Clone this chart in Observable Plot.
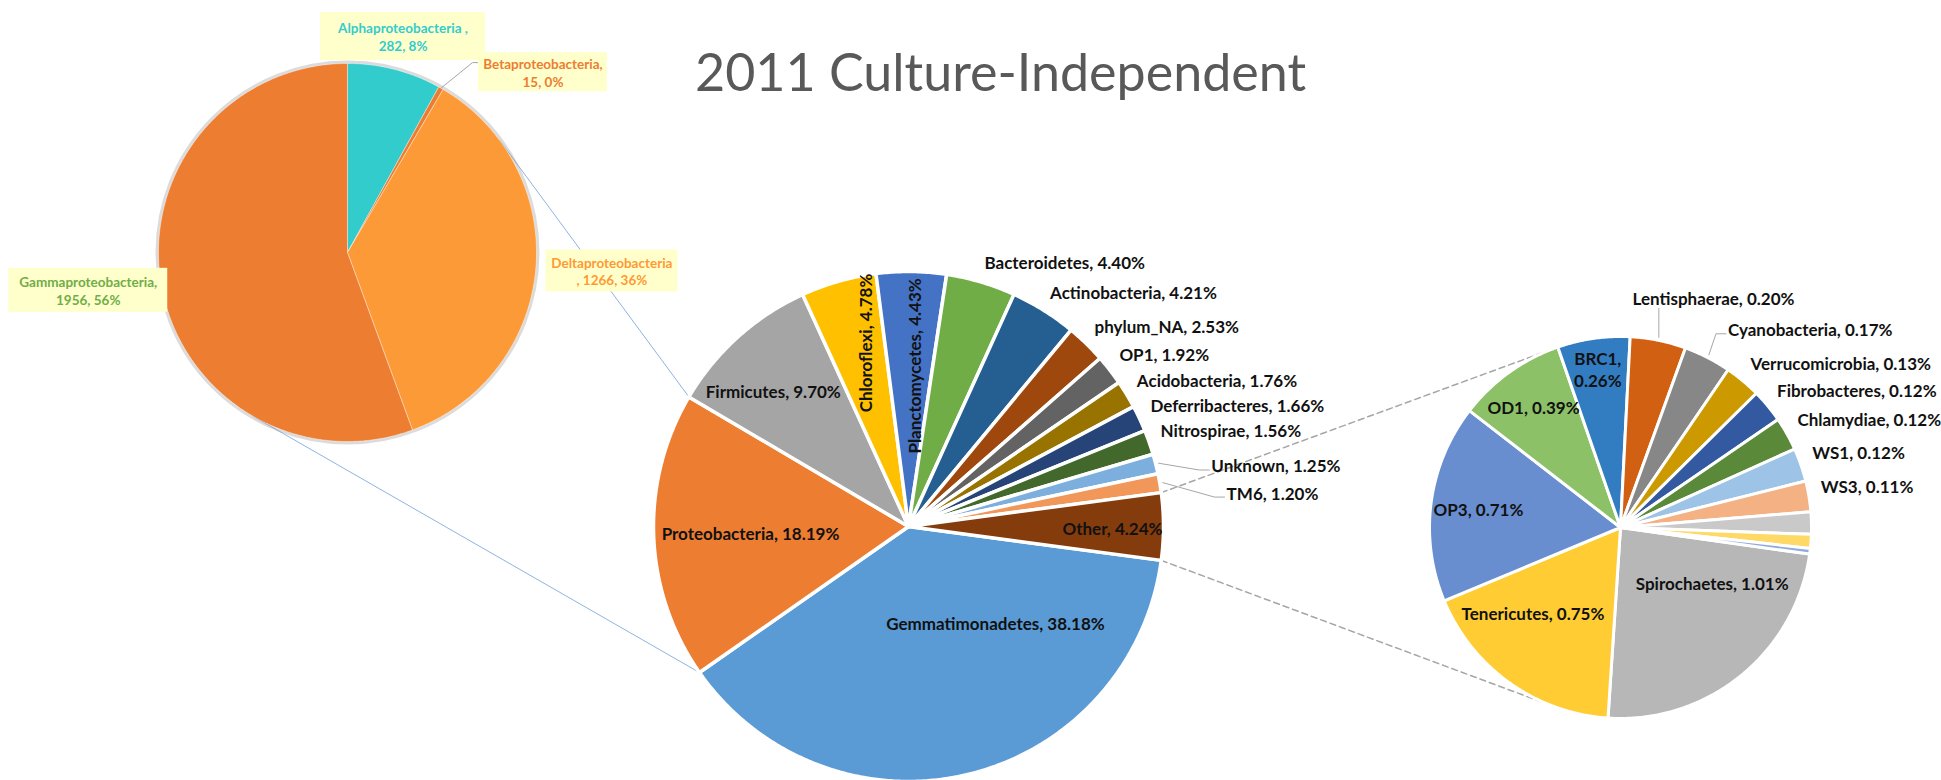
<!DOCTYPE html>
<html>
<head>
<meta charset="utf-8">
<script src="https://cdn.jsdelivr.net/npm/d3@7"></script>
<script src="https://cdn.jsdelivr.net/npm/@observablehq/plot@0.6"></script>
<style>
  html, body { margin: 0; padding: 0; background: #ffffff; }
  #chart svg { display: block; }
</style>
</head>
<body>
<div id="chart"></div>
<script>
// ---------------- DATA ----------------
const chartTitle = "2011 Culture-Independent";

// Main pie (percent of all reads); "Other" is broken out in the secondary pie
const mainCategories = ["Gemmatimonadetes", "Proteobacteria", "Firmicutes", "Chloroflexi", "Planctomycetes",
  "Bacteroidetes", "Actinobacteria", "phylum_NA", "OP1", "Acidobacteria", "Deferribacteres",
  "Nitrospirae", "Unknown", "TM6", "Other"];
const mainValues = [38.18, 18.19, 9.70, 4.78, 4.43, 4.40, 4.21, 2.53, 1.92, 1.76, 1.66, 1.56, 1.25, 1.20, 4.24];

// Secondary pie: composition of "Other" (last three slices are unlabeled in the source)
const otherCategories = ["Spirochaetes", "Tenericutes", "OP3", "OD1", "BRC1", "Lentisphaerae", "Cyanobacteria",
  "Verrucomicrobia", "Fibrobacteres", "Chlamydiae", "WS1", "WS3", "minor_1", "minor_2", "minor_3"];
const otherValues = [1.01, 0.75, 0.71, 0.39, 0.26, 0.20, 0.17, 0.13, 0.12, 0.12, 0.12, 0.11, 0.08, 0.05, 0.02];
const otherUnlabeled = ["minor_1", "minor_2", "minor_3"];

// Left pie: Proteobacteria classes (read counts)
const proteoCategories = ["Alphaproteobacteria", "Betaproteobacteria", "Deltaproteobacteria", "Gammaproteobacteria"];
const proteoCounts = [282, 15, 1266, 1956];
const proteoSeparators = [" ,\n", ",\n", "\n, ", ",\n"];

// ---------------- STYLES ----------------
const mainColors = ["#5B9BD5", "#ED7D31", "#A5A5A5", "#FFC000", "#4472C4", "#70AD47", "#255E91", "#9E480E",
  "#636363", "#997300", "#264478", "#43682B", "#7CAFDD", "#F1975A", "#843C0C"];
const otherColors = ["#B7B7B7", "#FFCD33", "#698ED0", "#8CC168", "#327DC2", "#D26012", "#878787", "#CC9A00",
  "#335AA1", "#5A8A39", "#9DC3E6", "#F4B183", "#C9C9C9", "#FFD966", "#8FAADC"];
const proteoColors = ["#33CCCC", "#ED7D31", "#FD9A38", "#ED7D31"];
const proteoTextColors = ["#33CCCC", "#ED7D31", "#FF9933", "#70AD47"];

// ---------------- LAYOUT ----------------
const W = 1941, H = 780;
const MAIN = {cx: 908, cy: 526, R: 255};
const SEC = {cx: 1620, cy: 527, R: 191, start: 8};
const LEFT = {cx: 347, cy: 252, R: 189};

// inside labels: radius fraction, optional angle override (deg, clockwise from 3 o'clock)
const mainInside = {
  Gemmatimonadetes: {r: 0.51, a: 48},
  Proteobacteria: {r: 0.62},
  Firmicutes: {r: 0.75, a: 225},
  Chloroflexi: {r: 0.74, a: 256.5, rotate: -90},
  Planctomycetes: {r: 0.63, a: 272, rotate: -90},
  Other: {r: 0.80, a: 0.5}
};
const mainLeader = {Unknown: {dx: 44, dy: 13, kind: "side"}, TM6: {dx: 55, dy: 20, kind: "side"}};
const secInside = {
  Spirochaetes: {r: 0.56, a: 31},
  Tenericutes: {r: 0.64, a: 135.7},
  OP3: {r: 0.75},
  OD1: {r: 0.78},
  BRC1: {r: 0.84, wrap: true}
};
const secLeader = {Lentisphaerae: {dx: -28, dy: -22, kind: "below"}, Cyanobacteria: {dx: 15, dy: -9, kind: "side"}};
// left pie callout boxes: radius from center, angle from top (deg), box size
const proteoBoxes = [
  {r: 223, a: null, w: 165, h: 48},
  {r: 266, a: 47.3, w: 129, h: 39, leader: true},
  {r: 265, a: 94, w: 132, h: 42},
  {r: 262, a: 261.7, w: 159, h: 44}
];

// ---------------- GEOMETRY ----------------
const rad = d => d * Math.PI / 180;
const polar = (P, r, deg) => [P.cx + r * Math.cos(rad(deg)), P.cy + r * Math.sin(rad(deg))];

function makeSlices(cats, vals, colors, start) {
  const total = d3.sum(vals);
  let a = start;
  return cats.map((name, i) => {
    const span = vals[i] / total * 360;
    const s = {name, value: vals[i], share: vals[i] / total, a0: a, a1: a + span, mid: a + span / 2, color: colors[i], i};
    a += span;
    return s;
  });
}
function slicePolys(slices, P, tag) {
  const out = [];
  for (const s of slices) {
    const k = tag + s.name;
    out.push({k, x: P.cx, y: P.cy, color: s.color});
    const n = Math.max(2, Math.ceil((s.a1 - s.a0) / 0.5));
    for (let j = 0; j <= n; j++) {
      const [x, y] = polar(P, P.R, s.a0 + (s.a1 - s.a0) * j / n);
      out.push({k, x, y, color: s.color});
    }
    out.push({k, x: P.cx, y: P.cy, color: s.color});
  }
  return out;
}
function tangent(px, py, P, side) {
  const dx = P.cx - px, dy = P.cy - py;
  const d = Math.hypot(dx, dy);
  const t = Math.atan2(dy, dx) + side * Math.asin(P.R / d);
  const L = Math.sqrt(d * d - P.R * P.R);
  return [px + L * Math.cos(t), py + L * Math.sin(t)];
}

const mainTotal = d3.sum(mainValues);
const otherSpan = mainValues[mainCategories.indexOf("Other")] / mainTotal * 360;
const mainSlices = makeSlices(mainCategories, mainValues, mainColors, otherSpan / 2);
const secSlices = makeSlices(otherCategories, otherValues, otherColors, SEC.start);
const leftSlices = makeSlices(proteoCategories, proteoCounts, proteoColors, -90);

// connectors: left pie <-> Proteobacteria slice
const proteo = mainSlices.find(s => s.name === "Proteobacteria");
const other = mainSlices.find(s => s.name === "Other");
const blueLines = [];
{
  const up = polar(MAIN, MAIN.R, proteo.a1), lo = polar(MAIN, MAIN.R, proteo.a0);
  const tu = tangent(up[0], up[1], LEFT, +1), tl = tangent(lo[0], lo[1], LEFT, -1);
  blueLines.push({k: "u", x: up[0], y: up[1]}, {k: "u", x: tu[0], y: tu[1]});
  blueLines.push({k: "l", x: lo[0], y: lo[1]}, {k: "l", x: tl[0], y: tl[1]});
}
const dashLines = [];
{
  const up = polar(MAIN, MAIN.R, other.a0), lo = polar(MAIN, MAIN.R, other.a1);
  const tu = tangent(up[0], up[1], SEC, -1), tl = tangent(lo[0], lo[1], SEC, +1);
  dashLines.push({k: "u", x: up[0], y: up[1]}, {k: "u", x: tu[0], y: tu[1]});
  dashLines.push({k: "l", x: lo[0], y: lo[1]}, {k: "l", x: tl[0], y: tl[1]});
}

// labels for main & secondary pies
const fmt = s => `${s.name}, ${s.value.toFixed(2)}%`;
const insideLabels = [], outsideLabels = [], leaders = [];
function buildLabels(slices, P, inside, leaderMap, skip) {
  for (const s of slices) {
    if (skip.includes(s.name)) continue;
    if (inside[s.name]) {
      const o = inside[s.name];
      const [x, y] = polar(P, P.R * o.r, o.a ?? s.mid);
      const text = o.wrap ? `${s.name},\n${s.value.toFixed(2)}%` : fmt(s);
      insideLabels.push({x, y, text, rotate: o.rotate ?? 0});
    } else {
      const [cx, cy] = polar(P, P.R + 12, s.mid);
      let tx = cx, ty = cy - 7;
      if (leaderMap[s.name]) {
        const o = leaderMap[s.name];
        tx += o.dx; ty += o.dy;
        const [ex, ey] = polar(P, P.R + 3, s.mid);
        const k = "ld" + s.name;
        leaders.push({k, x: ex, y: ey});
        if (o.kind === "below") {
          leaders.push({k, x: ex, y: ty + 9});
        } else {
          leaders.push({k, x: tx - 12, y: ty + 3}, {k, x: tx - 2, y: ty + 3});
        }
      }
      outsideLabels.push({x: tx, y: ty, text: fmt(s)});
    }
  }
}
buildLabels(mainSlices, MAIN, mainInside, mainLeader, []);
buildLabels(secSlices, SEC, secInside, secLeader, otherUnlabeled);

// left pie callouts
const proteoTotal = d3.sum(proteoCounts);
const boxes = [], boxLabels = [];
leftSlices.forEach((s, i) => {
  const b = proteoBoxes[i];
  const midTop = s.mid + 90; // angle from top
  const aTop = b.a ?? midTop;
  const [bx, by] = polar(LEFT, b.r, aTop - 90);
  boxes.push({x1: bx - b.w / 2, x2: bx + b.w / 2, y1: by - b.h / 2, y2: by + b.h / 2});
  const pct = Math.round(s.value / proteoTotal * 100);
  boxLabels.push({x: bx, y: by, text: `${s.name}${proteoSeparators[i]}${s.value}, ${pct}%`, color: proteoTextColors[i]});
  if (b.leader) {
    const [ex, ey] = polar(LEFT, LEFT.R, s.mid);
    const k = "lb" + s.name;
    const x1 = bx - b.w / 2, y1 = by - b.h / 2;
    leaders.push({k, x: ex, y: ey}, {k, x: x1 - 6, y: y1 + 10}, {k, x: x1, y: y1 + 10});
  }
});

const font = "Lato, 'Open Sans', sans-serif";

const chart = Plot.plot({
  width: W,
  height: H,
  margin: 0,
  x: {domain: [0, W], range: [0, W], axis: null},
  y: {domain: [0, H], range: [0, H], axis: null},
  color: {type: "identity"},
  style: {background: "#ffffff"},
  marks: [
    Plot.line(blueLines, {x: "x", y: "y", z: "k", stroke: "#8DB4E2", strokeWidth: 1}),
    Plot.line(dashLines, {x: "x", y: "y", z: "k", stroke: "#A6A6A6", strokeWidth: 1.5, strokeDasharray: "6,4"}),
    Plot.dot([LEFT], {x: "cx", y: "cy", r: LEFT.R + 1.5, fill: "none", stroke: "#999999", strokeOpacity: 0.35, strokeWidth: 3}),
    Plot.line(slicePolys(leftSlices, LEFT, "L"), {x: "x", y: "y", z: "k", fill: "color", stroke: "#ffffff", strokeWidth: 0.6, strokeOpacity: 0.6}),
    Plot.line(slicePolys(mainSlices, MAIN, "M"), {x: "x", y: "y", z: "k", fill: "color", stroke: "#ffffff", strokeWidth: 3.5}),
    Plot.line(slicePolys(secSlices, SEC, "S"), {x: "x", y: "y", z: "k", fill: "color", stroke: "#ffffff", strokeWidth: 3}),
    Plot.line(leaders, {x: "x", y: "y", z: "k", stroke: "#A6A6A6", strokeWidth: 1}),
    Plot.rect(boxes, {x1: "x1", x2: "x2", y1: "y1", y2: "y2", fill: "#FFFFCC"}),
    Plot.text(boxLabels, {x: "x", y: "y", text: "text", fill: "color", fontFamily: font, fontWeight: "bold",
      fontSize: 13.5, lineHeight: 1.3, textAnchor: "middle", lineAnchor: "middle"}),
    Plot.text(insideLabels, {x: "x", y: "y", text: "text", rotate: "rotate", fill: "#111111", fontFamily: font,
      fontWeight: "bold", fontSize: 17, lineHeight: 1.3, textAnchor: "middle", lineAnchor: "middle"}),
    Plot.text(outsideLabels, {x: "x", y: "y", text: "text", fill: "#111111", fontFamily: font,
      fontWeight: "bold", fontSize: 17, textAnchor: "start", lineAnchor: "middle"}),
    Plot.text([chartTitle], {x: () => 1000, y: () => 73.5, text: d => d, fill: "#595959", fontFamily: font,
      fontSize: 52, textAnchor: "middle", lineAnchor: "middle"})
  ]
});
document.getElementById("chart").appendChild(chart);
</script>
</body>
</html>
